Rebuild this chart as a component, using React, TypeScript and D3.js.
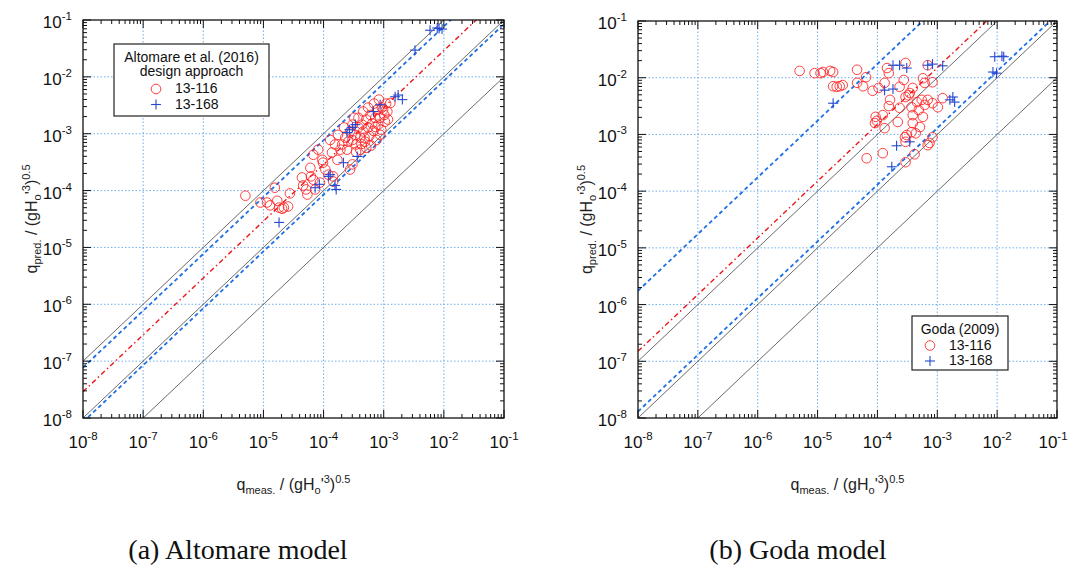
import React from "react";
import * as d3 from "d3";

// log10 values: [q_meas, q_pred] (dimensionless)
const altomare116: [number, number][] = [
  [-5.30, -4.09], [-5.05, -4.21], [-4.94, -4.21], [-4.89, -4.26], [-4.77, -4.18], [-4.56, -4.05],
  [-4.74, -4.30], [-4.69, -4.32], [-4.66, -4.30], [-4.59, -4.28], [-4.81, -3.95],
  [-4.36, -3.77], [-4.34, -3.91], [-4.29, -3.98], [-4.27, -4.07], [-4.21, -3.75], [-4.17, -3.81],
  [-4.14, -3.98], [-4.06, -3.86], [-4.17, -3.37], [-4.09, -3.28], [-4.02, -3.46], [-3.97, -3.63],
  [-3.92, -3.72], [-3.86, -3.33], [-3.81, -3.19], [-3.77, -3.46], [-3.84, -3.75], [-3.72, -3.28],
  [-3.56, -3.63], [-3.52, -3.54], [-4.01, -3.51], [-3.84, -3.84], [-4.22, -3.60], [-3.89, -3.11],
  [-3.76, -3.02],
  [-3.69, -3.19], [-3.64, -3.07], [-3.59, -3.14], [-3.56, -2.96], [-3.52, -3.11], [-3.47, -3.02],
  [-3.46, -3.19], [-3.42, -2.89], [-3.39, -3.07], [-3.36, -2.84], [-3.34, -2.96], [-3.31, -3.14],
  [-3.29, -2.75], [-3.26, -2.89], [-3.24, -3.04], [-3.22, -2.67], [-3.19, -2.82], [-3.17, -2.95],
  [-3.14, -2.72], [-3.12, -3.11], [-3.11, -2.58], [-3.09, -2.84], [-3.06, -2.72], [-3.04, -2.93],
  [-3.03, -2.54], [-2.99, -2.67], [-2.98, -2.79], [-2.96, -2.47], [-2.94, -2.61], [-2.93, -2.75],
  [-2.89, -2.46], [-3.01, -2.58], [-3.39, -3.28], [-3.29, -3.25], [-3.21, -3.21], [-3.42, -2.72],
  [-3.34, -2.61], [-3.26, -2.54], [-3.16, -2.47], [-3.08, -2.40], [-3.61, -3.28], [-3.52, -2.84],
  [-3.66, -2.89], [-3.49, -2.72], [-3.06, -3.02], [-3.14, -2.88], [-3.32, -3.07], [-3.37, -3.18],
  [-3.46, -3.32],
];

const altomare168: [number, number][] = [
  [-4.74, -4.56], [-4.14, -3.95], [-4.07, -3.89], [-3.79, -3.98], [-3.92, -3.75], [-3.81, -3.91],
  [-3.67, -3.51], [-3.44, -3.40], [-3.61, -2.98], [-3.57, -2.93], [-3.52, -2.89], [-3.47, -2.84],
  [-3.17, -2.61], [-3.06, -2.49], [-2.81, -2.35], [-2.76, -2.32], [-2.69, -2.40], [-3.89, -3.72],
  [-2.48, -1.53], [-2.23, -1.18], [-2.11, -1.14], [-2.03, -1.16], [-2.08, -1.15],
];

const goda116: [number, number][] = [
  [-5.30, -1.88], [-5.05, -1.92], [-4.95, -1.92], [-4.91, -1.90], [-4.79, -1.88], [-4.74, -1.90],
  [-4.34, -1.86], [-4.19, -1.99], [-4.74, -2.15], [-4.68, -2.16], [-4.63, -2.15], [-4.58, -2.13],
  [-4.34, -2.09], [-4.24, -2.15], [-4.08, -2.23], [-3.98, -2.18], [-3.88, -2.09], [-3.81, -1.92],
  [-3.84, -1.83], [-3.56, -2.04], [-3.63, -2.16], [-3.53, -1.74], [-3.24, -2.01], [-3.21, -2.09],
  [-3.16, -1.78], [-3.41, -2.18], [-3.08, -2.08], [-3.48, -2.31], [-3.79, -2.39], [-3.81, -2.50],
  [-3.63, -2.53], [-3.53, -2.34], [-4.03, -2.69], [-4.01, -2.76], [-3.91, -2.66], [-4.04, -2.80],
  [-3.88, -2.89], [-3.66, -2.78], [-3.41, -2.66], [-3.31, -2.57], [-3.21, -2.48], [-3.16, -2.39],
  [-3.08, -2.45], [-3.26, -2.39], [-3.34, -2.43], [-3.43, -2.52], [-2.99, -2.52], [-2.91, -2.36],
  [-3.24, -2.69], [-3.41, -2.80], [-3.29, -2.87], [-3.43, -2.96], [-3.51, -3.01], [-3.36, -2.98],
  [-3.08, -3.05], [-3.54, -3.05], [-3.53, -3.13], [-3.13, -3.15], [-3.16, -3.19], [-3.38, -3.35],
  [-3.53, -3.49], [-3.91, -3.33], [-4.18, -3.42], [-3.46, -2.27],
];

const goda168: [number, number][] = [
  [-3.74, -1.78], [-3.63, -1.78], [-3.51, -1.83], [-3.16, -1.78], [-3.08, -1.76], [-2.91, -1.79],
  [-3.88, -2.22], [-3.74, -2.20], [-3.68, -3.20], [-3.46, -3.13], [-3.76, -3.57], [-2.74, -2.34],
  [-2.71, -2.43], [-2.79, -2.39], [-2.04, -1.63], [-1.92, -1.62], [-1.89, -1.63], [-2.07, -1.90],
  [-2.01, -1.92], [-4.74, -2.45],
];

// reference lines as q_pred / q_meas ratios
const altomareLines = [
  { ratio: 10, kind: "black" }, { ratio: 1, kind: "black" }, { ratio: 0.1, kind: "black" },
  { ratio: 7.7, kind: "blue" }, { ratio: 0.85, kind: "blue" }, { ratio: 2.9, kind: "red" },
];
const godaLines = [
  { ratio: 10, kind: "black" }, { ratio: 1, kind: "black" }, { ratio: 0.1, kind: "black" },
  { ratio: 175, kind: "blue" }, { ratio: 1.3, kind: "blue" }, { ratio: 15, kind: "red" },
];

const domain: [number, number] = [1e-8, 1e-1];
const seriesNames = ["13-116", "13-168"];

const FONT = "'Liberation Sans', Arial, sans-serif";
const RED = "#ff2020";
const PLUS = "#2448d0";
const DASHBLUE = "#1f6fe6";
const GRID = "#5ea6ea";

const lineStyle: Record<string, any> = {
  black: { stroke: "#444", strokeWidth: 0.8 },
  blue: { stroke: DASHBLUE, strokeWidth: 1.8, strokeDasharray: "4,3" },
  red: { stroke: "#ee1515", strokeWidth: 1.4, strokeDasharray: "5,3,1.5,3" },
};

const isMajor = (t: number) => Math.abs(Math.log10(t) - Math.round(Math.log10(t))) < 1e-6;
const expOf = (t: number) => Math.round(Math.log10(t));

function Plus({ cx, cy }: { cx: number; cy: number }) {
  const s = 5;
  return (
    <g stroke={PLUS} strokeWidth={1.1}>
      <line x1={cx - s} x2={cx + s} y1={cy} y2={cy} />
      <line x1={cx} x2={cx} y1={cy - s} y2={cy + s} />
    </g>
  );
}

function AxisLabel({ x, y, sub, rotate }: any) {
  return (
    <text x={x} y={y} fontFamily={FONT} fontSize={16} fill="#222" textAnchor="middle"
      transform={rotate ? `rotate(-90,${x},${y})` : undefined}>
      q<tspan fontSize={11} dy={4}>{sub}</tspan>
      <tspan fontSize={16} dy={-4}> / (gH</tspan>
      <tspan fontSize={11} dy={4}>o</tspan>
      <tspan fontSize={16} dy={-4}>'</tspan>
      <tspan fontSize={11} dy={-7}>3</tspan>
      <tspan fontSize={16} dy={7}>)</tspan>
      <tspan fontSize={11} dy={-7}>0.5</tspan>
    </text>
  );
}

function Panel({ id, x0, x1, y0, y1, s116, s168, lines, legend, caption, capX }: any) {
  const x = d3.scaleLog().domain(domain).range([x0, x1]);
  const y = d3.scaleLog().domain(domain).range([y1, y0]);
  const ticks = x.ticks();
  const pathFor = (r: number) =>
    d3.line<number>().x((v) => x(v)).y((v) => y(v * r))(domain as number[]) || "";
  // keep the last x tick label inside the page
  const xLabelPos = (t: number) => Math.min(x(t), 1070 - 17);
  return (
    <g>
      <defs>
        <clipPath id={id}>
          <rect x={x0} y={y0} width={x1 - x0} height={y1 - y0} />
        </clipPath>
      </defs>
      {/* grid */}
      {ticks.filter((t) => isMajor(t) && t > domain[0] && t < domain[1]).map((t) => (
        <g key={"g" + t} stroke={GRID} strokeWidth={0.9} strokeDasharray="1.5,2">
          <line x1={x(t)} x2={x(t)} y1={y0} y2={y1} />
          <line x1={x0} x2={x1} y1={y(t)} y2={y(t)} />
        </g>
      ))}
      {/* reference lines */}
      <g clipPath={`url(#${id})`} fill="none">
        {lines.map((l: any, i: number) => (
          <path key={i} d={pathFor(l.ratio)} {...lineStyle[l.kind]} />
        ))}
      </g>
      {/* data */}
      <g clipPath={`url(#${id})`}>
        {s116.map((d: [number, number], i: number) => (
          <circle key={i} cx={x(10 ** d[0])} cy={y(10 ** d[1])} r={4.8} fill="none" stroke={RED} strokeWidth={0.85} />
        ))}
        {s168.map((d: [number, number], i: number) => (
          <Plus key={i} cx={x(10 ** d[0])} cy={y(10 ** d[1])} />
        ))}
      </g>
      {/* ticks on all sides */}
      <g stroke="#111" strokeWidth={1}>
        {ticks.map((t) => {
          const L = isMajor(t) ? 8 : 4;
          return (
            <g key={"t" + t}>
              <line x1={x(t)} x2={x(t)} y1={y1} y2={y1 - L} />
              <line x1={x(t)} x2={x(t)} y1={y0} y2={y0 + L} />
              <line x1={x0} x2={x0 + L} y1={y(t)} y2={y(t)} />
              <line x1={x1} x2={x1 - L} y1={y(t)} y2={y(t)} />
            </g>
          );
        })}
      </g>
      <rect x={x0} y={y0} width={x1 - x0} height={y1 - y0} fill="none" stroke="#111" strokeWidth={1.3} />
      {/* tick labels */}
      {ticks.filter(isMajor).map((t) => (
        <g key={"l" + t} fontFamily={FONT} fill="#111">
          <text x={xLabelPos(t)} y={y1 + 30} fontSize={17} textAnchor="middle">
            10<tspan fontSize={11.5} dy={-8}>{expOf(t)}</tspan>
          </text>
          <text x={x0 - 11} y={y(t) + 8} fontSize={17} textAnchor="end">
            10<tspan fontSize={11.5} dy={-8}>{expOf(t)}</tspan>
          </text>
        </g>
      ))}
      <AxisLabel x={(x0 + x1) / 2} y={490} sub="meas." />
      <AxisLabel x={x0 - 46} y={(y0 + y1) / 2} sub="pred." rotate />
      {/* legend */}
      <g fontFamily={FONT} fontSize={14} fill="#111">
        <rect x={legend.x} y={legend.y} width={legend.w} height={legend.h} fill="#fff" stroke="#222" strokeWidth={1.2} />
        {legend.title.map((s: string, i: number) => (
          <text key={s} x={legend.x + legend.w / 2} y={legend.y + 18 + i * 14} textAnchor="middle">{s}</text>
        ))}
        {seriesNames.map((s, i) => {
          const yy = legend.y + 18 + (legend.title.length + i) * 15.5;
          return (
            <g key={s}>
              {i === 0 ? (
                <circle cx={legend.sx} cy={yy - 4} r={4.8} fill="none" stroke={RED} strokeWidth={0.85} />
              ) : (
                <Plus cx={legend.sx} cy={yy - 4} />
              )}
              <text x={legend.sx + 19} y={yy}>{s}</text>
            </g>
          );
        })}
      </g>
      <text x={capX} y={559} fontFamily="'Liberation Serif', 'Times New Roman', serif" fontSize={28} textAnchor="middle" fill="#111">
        {caption}
      </text>
    </g>
  );
}

export default function App() {
  return (
    <svg width={1070} height={579} style={{ position: "absolute", left: 0, top: 0, background: "#fff" }}>
      <rect width={1070} height={579} fill="#fff" />
      <Panel id="clipA" x0={83} x1={504} y0={20} y1={418} s116={altomare116} s168={altomare168}
        lines={altomareLines}
        legend={{ x: 114, y: 44, w: 155, h: 72, sx: 156, title: ["Altomare et al. (2016)", "design approach"] }}
        caption="(a) Altomare model" capX={238} />
      <Panel id="clipB" x0={638} x1={1057} y0={21} y1={418} s116={goda116} s168={goda168}
        lines={godaLines}
        legend={{ x: 912, y: 316, w: 96, h: 54, sx: 930, title: ["Goda (2009)"] }}
        caption="(b) Goda model" capX={798} />
    </svg>
  );
}
